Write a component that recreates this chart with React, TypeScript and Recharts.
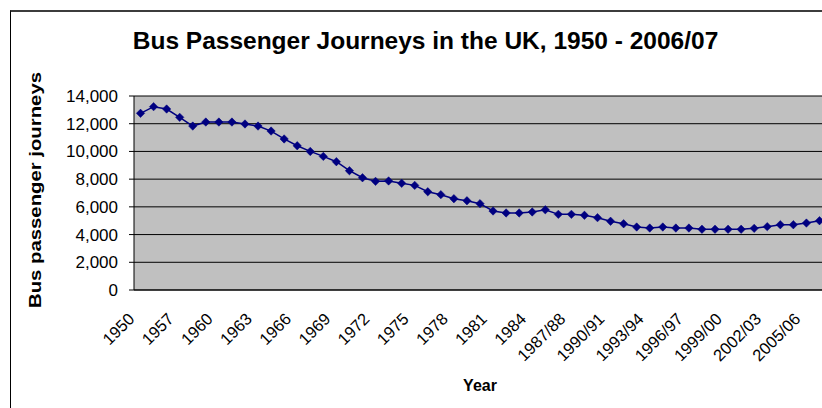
import React from 'react';
import { LineChart, Line, XAxis, YAxis, CartesianGrid, Label } from 'recharts';

const categories = [
  '1950', '1955', '1956', '1957', '1958', '1959', '1960', '1961', '1962', '1963',
  '1964', '1965', '1966', '1967', '1968', '1969', '1970', '1971', '1972', '1973',
  '1974', '1975', '1976', '1977', '1978', '1979', '1980', '1981', '1982', '1983',
  '1984', '1985/86', '1986/87', '1987/88', '1988/89', '1989/90', '1990/91', '1991/92', '1992/93', '1993/94',
  '1994/95', '1995/96', '1996/97', '1997/98', '1998/99', '1999/00', '2000/01', '2001/02', '2002/03', '2003/04',
  '2004/05', '2005/06', '2006/07',
];

const journeys = [
  12750, 13230, 13060, 12460, 11830, 12120, 12120, 12120, 11980, 11830,
  11470, 10900, 10410, 10000, 9640, 9260, 8610, 8100, 7840, 7870,
  7700, 7550, 7090, 6880, 6590, 6440, 6230, 5700, 5560, 5560,
  5630, 5790, 5460, 5460, 5390, 5220, 4960, 4780, 4545, 4470,
  4545, 4470, 4470, 4380, 4380, 4380, 4380, 4450, 4570, 4710,
  4710, 4830, 5000,
];

const tickLabels = [
  '1950', '1957', '1960', '1963', '1966', '1969', '1972', '1975', '1978', '1981',
  '1984', '1987/88', '1990/91', '1993/94', '1996/97', '1999/00', '2002/03', '2005/06',
];

const yTicks = [0, 2000, 4000, 6000, 8000, 10000, 12000, 14000];

const title = 'Bus Passenger Journeys in the UK, 1950 - 2006/07';
const yTitle = 'Bus passenger journeys';
const xTitle = 'Year';

const data = categories.map((c, i) => ({ idx: i, name: c, v: journeys[i] }));
const boundaryTicks = categories.map((_, i) => i - 0.5).concat(categories.length - 0.5);
const labelTicks = tickLabels.map((t) => categories.indexOf(t));
const xDomain = [-0.5, categories.length - 0.5];

const FONT = 'Arial, "Liberation Sans", sans-serif';

const Diamond = (props: any) => {
  const { cx, cy } = props;
  if (cx == null || cy == null) return null;
  const r = 4.2;
  return (
    <polygon
      points={`${cx},${cy - r} ${cx + r},${cy} ${cx},${cy + r} ${cx - r},${cy}`}
      fill="#000080"
      stroke="#000080"
      strokeWidth={0.5}
    />
  );
};

const XTick = (props: any) => {
  const { x, y, payload } = props;
  const label = categories[payload.value];
  const ty = y + 29;
  const tx = x - 5;
  return (
    <text
      x={tx}
      y={ty}
      transform={`rotate(-45, ${tx}, ${ty})`}
      textAnchor="end"
      fontSize={16.5}
      fontFamily={FONT}
      fill="#000"
    >
      {label}
    </text>
  );
};

const YTitle = () => (
  <text
    x={41}
    y={308}
    transform="rotate(-90, 41, 308)"
    textAnchor="start"
    fontSize={17}
    fontWeight="bold"
    fontFamily={FONT}
    fill="#000"
    textLength={236}
    lengthAdjust="spacingAndGlyphs"
  >
    {yTitle}
  </text>
);

export default function App() {
  return (
    <div
      style={{
        position: 'absolute',
        left: 0,
        top: 0,
        width: 822,
        height: 408,
        overflow: 'hidden',
        background: '#fff',
      }}
    >
      <div
        style={{
          position: 'absolute',
          left: 10,
          top: 10,
          width: 900,
          height: 500,
          borderTop: '2px solid #3c3c3c',
          borderLeft: '1px solid #000',
        }}
      />
      <div
        style={{
          position: 'absolute',
          left: 0,
          top: 27,
          width: 851,
          textAlign: 'center',
          fontFamily: FONT,
          fontWeight: 'bold',
          fontSize: 24.5,
          lineHeight: '28px',
          color: '#000',
          whiteSpace: 'nowrap',
        }}
      >
        {title}
      </div>
      <div style={{ position: 'absolute', left: 0, top: 0 }}>
        <LineChart
          width={830}
          height={408}
          data={data}
          margin={{ top: 96, right: 4, left: 0, bottom: 0 }}
        >
          <CartesianGrid
            vertical={false}
            fill="#C0C0C0"
            stroke="#000"
            strokeWidth={1}
            xAxisId="lab"
            fillOpacity={1}
          />
          <XAxis
            xAxisId="bnd"
            dataKey="idx"
            type="number"
            domain={xDomain}
            ticks={boundaryTicks}
            tick={false}
            tickSize={5}
            height={1}
            axisLine={{ stroke: '#000', strokeWidth: 1 }}
            tickLine={{ stroke: '#000', strokeWidth: 1 }}
            allowDataOverflow
          />
          <XAxis
            xAxisId="lab"
            dataKey="idx"
            type="number"
            domain={xDomain}
            ticks={labelTicks}
            tick={<XTick />}
            tickSize={0}
            tickMargin={0}
            height={117}
            axisLine={false}
            tickLine={false}
            interval={0}
            allowDataOverflow
          >
            <Label
              value={xTitle}
              position="insideBottom"
              offset={17}
              style={{ fontFamily: FONT, fontWeight: 'bold', fontSize: 16, fill: '#000' }}
            />
          </XAxis>
          <YAxis
            width={134}
            domain={[0, 14000]}
            ticks={yTicks}
            interval={0}
            tickSize={5}
            tickMargin={11}
            tickFormatter={(v: number) => v.toLocaleString('en-US')}
            tick={{ fontSize: 17, fontFamily: FONT, fill: '#000' }}
            axisLine={{ stroke: '#000', strokeWidth: 1 }}
            tickLine={{ stroke: '#000', strokeWidth: 1 }}
          >
            <Label content={<YTitle />} />
          </YAxis>
          <Line
            xAxisId="lab"
            type="linear"
            dataKey="v"
            stroke="#000080"
            strokeWidth={1.5}
            dot={<Diamond />}
            activeDot={false}
            isAnimationActive={false}
          />
        </LineChart>
      </div>
    </div>
  );
}
